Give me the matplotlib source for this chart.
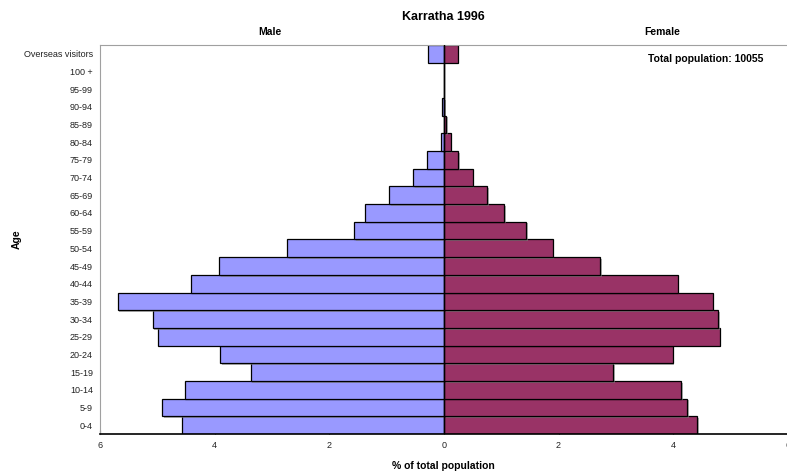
import numpy as np
import matplotlib
matplotlib.use("Agg")
import matplotlib.pyplot as plt
from matplotlib import patheffects as pe
from matplotlib.ticker import FuncFormatter

plt.rcParams["font.family"] = ["Liberation Sans", "DejaVu Sans"]

# ── Données ──────────────────────────────────────────────────────────────────
ages = ["0-4", "5-9", "10-14", "15-19", "20-24", "25-29", "30-34", "35-39",
        "40-44", "45-49", "50-54", "55-59", "60-64", "65-69", "70-74", "75-79",
        "80-84", "85-89", "90-94", "95-99", "100 +", "Overseas visitors"]
male = [4.56, 4.91, 4.52, 3.37, 3.90, 4.99, 5.08, 5.69, 4.41, 3.92, 2.73,
        1.57, 1.37, 0.96, 0.54, 0.29, 0.05, 0.0, 0.04, 0.0, 0.0, 0.28]
female = [4.42, 4.24, 4.14, 2.95, 3.99, 4.81, 4.78, 4.69, 4.08, 2.73, 1.90,
          1.43, 1.05, 0.75, 0.50, 0.25, 0.12, 0.035, 0.0, 0.0, 0.0, 0.24]
x_ticks = [-6, -4, -2, 0, 2, 4, 6]
total_pop = 10055

# ── Figure ───────────────────────────────────────────────────────────────────
fig = plt.figure(figsize=(7.87, 4.75), dpi=100)
ax = fig.add_axes([0.127, 0.0863, 0.874, 0.819])

y = np.arange(len(ages))
shadow = [pe.SimplePatchShadow(offset=(1.2, -1.2), shadow_rgbFace="#808080", alpha=0.6),
          pe.Normal()]
ax.barh(y, -np.array(male), height=1.0, color="#9999FF", edgecolor="black",
        linewidth=0.9, path_effects=shadow, zorder=2)
ax.barh(y, female, height=1.0, color="#993366", edgecolor="black",
        linewidth=0.9, path_effects=shadow, zorder=2)
ax.axvline(0, color="black", linewidth=1.0, zorder=3)

ax.set_xlim(-6, 6)
ax.set_ylim(-0.5, len(ages) - 0.5)
ax.set_xticks(x_ticks)
ax.xaxis.set_major_formatter(FuncFormatter(lambda v, p: f"{abs(v):g}"))
ax.set_yticks(y)
ax.set_yticklabels(ages)
ax.tick_params(axis="y", length=0, labelsize=6.5, pad=5, colors="#222222")
ax.tick_params(axis="x", length=3, direction="in", labelsize=6.5, pad=5,
               colors="#222222")

for s in ("left", "top"):
    ax.spines[s].set_color("#a0a0a0")
ax.spines["right"].set_visible(False)
ax.spines["bottom"].set_color("black")
ax.spines["bottom"].set_linewidth(1.2)

ax.set_xlabel("% of total population", fontsize=7.5, fontweight="bold", labelpad=8)
ax.set_ylabel("Age", fontsize=7.5, fontweight="bold")
ax.yaxis.set_label_coords(-0.114, 0.5)

fig.text(0.563, 0.965, "Karratha 1996", ha="center", va="center",
         fontsize=9, fontweight="bold")
fig.text(0.343, 0.932, "Male", ha="center", va="center", fontsize=7.5,
         fontweight="bold")
fig.text(0.842, 0.932, "Female", ha="center", va="center", fontsize=7.5,
         fontweight="bold")
ax.text(0.88, 0.965, f"Total population: {total_pop}", transform=ax.transAxes,
        ha="center", va="center", fontsize=7.5, fontweight="bold")

fig.savefig("out.png", dpi=100)
